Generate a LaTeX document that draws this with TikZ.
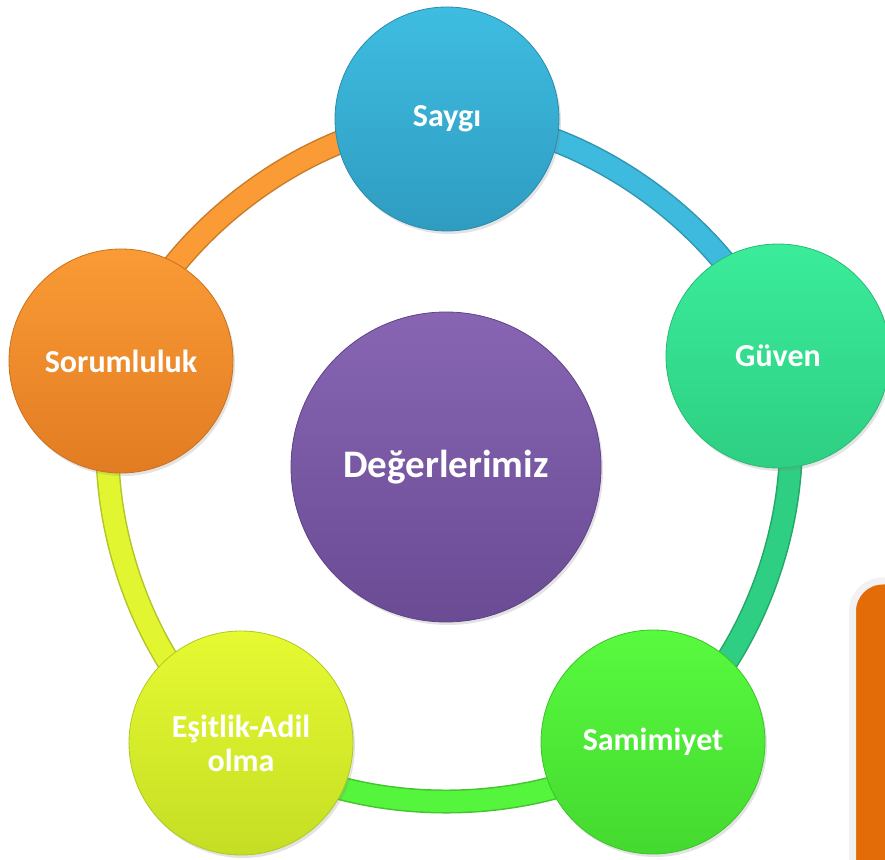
\documentclass[tikz,border=0pt]{standalone}
\usepackage{fontspec}
\setmainfont{Carlito}
\usetikzlibrary{shadows,backgrounds}

\definecolor{saytop}{HTML}{3EBDE1}
\definecolor{saybot}{HTML}{2F9CC1}
\definecolor{guvtop}{HTML}{3AEC9A}
\definecolor{guvbot}{HTML}{2ECF82}
\definecolor{samtop}{HTML}{58FA3F}
\definecolor{sambot}{HTML}{44D92F}
\definecolor{esttop}{HTML}{E6FA32}
\definecolor{estbot}{HTML}{C5DE24}
\definecolor{sortop}{HTML}{FA9B36}
\definecolor{sorbot}{HTML}{E27C22}
\definecolor{hubtop}{HTML}{8765B3}
\definecolor{hubbot}{HTML}{6A4B94}
\definecolor{boxorange}{HTML}{E36C09}
\definecolor{boxrim}{HTML}{F2F2F2}

\tikzset{
  value/.style={circle, minimum size=224pt, inner sep=0pt, text=white,
    font=\bfseries\fontsize{32}{34}\selectfont, align=center, line width=0.8pt,
    drop shadow={opacity=0.22, shadow xshift=2pt, shadow yshift=-3pt}},
  hub/.style={value, minimum size=310pt, font=\bfseries\fontsize{39}{41}\selectfont},
  tube/.style={draw=#1!80!black, double=#1, double distance=21pt, line width=1.5pt},
  ring/.style={bend left=36, looseness=0.83}
}

\begin{document}
\begin{tikzpicture}[x=1pt,y=1pt]
  \useasboundingbox (0,0) rectangle (885,859);
  \clip (0,0) rectangle (885,859);

  % side box, mostly off the page
  \draw[draw=boxrim, line width=7pt, fill=boxorange, rounded corners=30pt]
    (852.5,-40) rectangle (960,278);

  \node[hub, top color=hubtop, bottom color=hubbot, draw=hubbot!90!black] (deger) at (446,392) {Değerlerimiz};

  \node[value, top color=saytop, bottom color=saybot, draw=saybot!90!black] (saygi) at (447,740) {Saygı};
  \node[value, top color=guvtop, bottom color=guvbot, draw=guvbot!90!black] (guven) at (778,503) {Güven};
  \node[value, top color=samtop, bottom color=sambot, draw=sambot!90!black] (samim) at (653,117) {Samimiyet};
  \node[value, top color=esttop, bottom color=estbot, draw=estbot!90!black] (esit) at (241,116) {Eşitlik-Adil\\olma};
  \node[value, top color=sortop, bottom color=sorbot, draw=sorbot!90!black] (sorum) at (121,498) {Sorumluluk};

  \begin{scope}[on background layer]
    \draw[tube=saytop!90!saybot] (saygi.center) to[ring] (guven.center);
    \draw[tube=guvbot] (guven.center) to[ring] (samim.center);
    \draw[tube=samtop!85!sambot] (samim.center) to[ring] (esit.center);
    \draw[tube=esttop!85!estbot] (esit.center) to[ring] (sorum.center);
    \draw[tube=sortop] (sorum.center) to[ring] (saygi.center);
  \end{scope}
\end{tikzpicture}
\end{document}
